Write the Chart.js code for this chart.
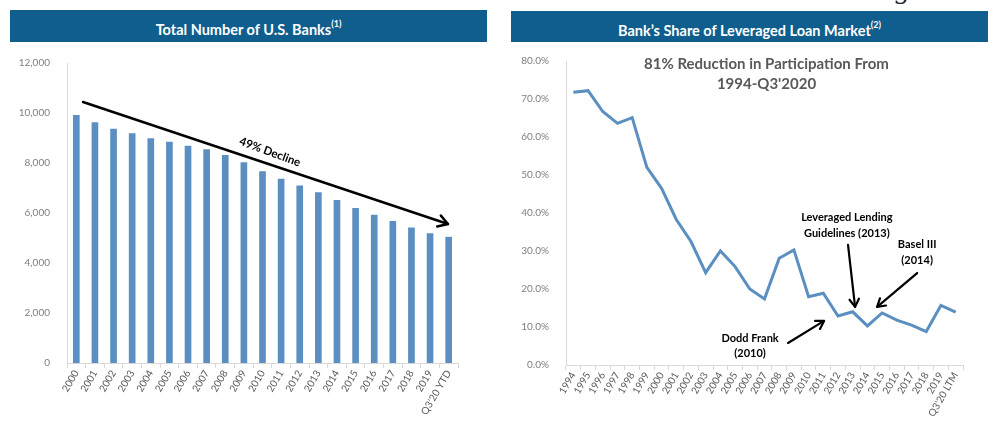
<!DOCTYPE html>
<html>
<head>
<meta charset="utf-8">
<script src="https://cdn.jsdelivr.net/npm/chart.js@4.4.1/dist/chart.umd.min.js"></script>
<style>
  body { margin: 0; width: 998px; height: 422px; background: #fff; position: relative; overflow: hidden; font-family: Lato, sans-serif; }
  .hdr { position: absolute; height: 32px; line-height: 32px; background: #0f5e8d; color: #fff; font-weight: bold; font-size: 14.5px; text-align: center; }
  .hdr sup { font-size: 9px; position: relative; top: -2px; }
  .box { position: absolute; top: 45px; }
  .frag { position: absolute; left: 893px; top: -25px; font: 26px "DejaVu Serif", serif; color: #222; }
</style>
</head>
<body>
<div class="frag">g</div>
<div class="hdr" style="left:10px; top:10px; width:477px;">Total Number of U.S. Banks<sup>(1)</sup></div>
<div class="hdr" style="left:511px; top:11px; width:477px; height:31px; line-height:31px;">Bank’s Share of Leveraged Loan Market<sup>(2)</sup></div>
<canvas id="banks" class="box" style="left:10px;" width="478" height="377"></canvas>
<canvas id="share" class="box" style="left:511px;" width="478" height="377"></canvas>
<script>
// Total number of U.S. banks
const bankYears = ['2000', '2001', '2002', '2003', '2004', '2005', '2006', '2007', '2008', '2009', '2010',
  '2011', '2012', '2013', '2014', '2015', '2016', '2017', '2018', '2019', "Q3'20 YTD"];
const bankCounts = [9904, 9613, 9354, 9181, 8976, 8833, 8680, 8534, 8305, 8012, 7658,
  7357, 7083, 6812, 6509, 6182, 5913, 5670, 5406, 5177, 5033];
const bankTicks = [0, 2000, 4000, 6000, 8000, 10000, 12000];

// Bank's share of leveraged loan market (%)
const shareYears = ['1994', '1995', '1996', '1997', '1998', '1999', '2000', '2001', '2002', '2003', '2004',
  '2005', '2006', '2007', '2008', '2009', '2010', '2011', '2012', '2013', '2014', '2015', '2016', '2017',
  '2018', '2019', "Q3'20 LTM"];
const bankShare = [71.8, 72.2, 66.7, 63.6, 65.1, 52.0, 46.5, 38.3, 32.5, 24.3, 30.0,
  25.9, 20.0, 17.4, 28.1, 30.3, 18.0, 18.9, 12.9, 14.0, 10.3, 13.7, 11.8, 10.5,
  8.8, 15.7, 13.9];
const shareTicks = [0, 10, 20, 30, 40, 50, 60, 70, 80];

const axisGrey = '#d9d9d9';
const labelGrey = '#595959';
const lineBlue = '#5b8fc1';

function arrow(ctx, x1, y1, x2, y2, head) {
  ctx.beginPath();
  ctx.moveTo(x1, y1);
  ctx.lineTo(x2, y2);
  ctx.stroke();
  const a = Math.atan2(y2 - y1, x2 - x1);
  ctx.beginPath();
  ctx.moveTo(x2 - head * Math.cos(a - 0.55), y2 - head * Math.sin(a - 0.55));
  ctx.lineTo(x2, y2);
  ctx.lineTo(x2 - head * Math.cos(a + 0.55), y2 - head * Math.sin(a + 0.55));
  ctx.stroke();
}

// "49% Decline" arrow, placed in scale units
const declinePlugin = {
  id: 'decline',
  afterDraw(chart) {
    const { ctx, scales: { x, y } } = chart;
    const x1 = x.getPixelForValue(0.36), y1 = y.getPixelForValue(10440);
    const x2 = x.getPixelForValue(19.96), y2 = y.getPixelForValue(5560);
    ctx.save();
    ctx.strokeStyle = '#000';
    ctx.lineWidth = 2.5;
    ctx.lineCap = 'round';
    ctx.lineJoin = 'round';
    arrow(ctx, x1, y1, x2, y2, 11);
    ctx.translate(x.getPixelForValue(10.4), y.getPixelForValue(8440));
    ctx.rotate(Math.atan2(y2 - y1, x2 - x1) + 0.03);
    ctx.fillStyle = '#000';
    ctx.font = 'bold 11.5px Lato';
    ctx.textAlign = 'center';
    ctx.textBaseline = 'middle';
    ctx.fillText('49% Decline', 0, 0);
    ctx.restore();
  }
};

const notesPlugin = {
  id: 'notes',
  afterDraw(chart) {
    const { ctx, chartArea, scales: { x, y } } = chart;
    const px = v => x.getPixelForValue(v);
    const py = v => y.getPixelForValue(v);
    ctx.save();
    ctx.textAlign = 'center';
    ctx.textBaseline = 'middle';
    ctx.fillStyle = labelGrey;
    ctx.font = 'bold 15px Lato';
    const cx = (chartArea.left + chartArea.right) / 2 + 2;
    ctx.fillText('81% Reduction in Participation From', cx, chartArea.top + 3);
    ctx.fillText("1994-Q3'2020", cx, chartArea.top + 23);

    ctx.fillStyle = '#000';
    ctx.font = 'bold 11px Lato';
    ctx.fillText('Leveraged Lending', px(18.6), py(38.7));
    ctx.fillText('Guidelines (2013)', px(18.6), py(34.7));
    ctx.fillText('Basel III', px(23.38), py(31.6));
    ctx.fillText('(2014)', px(23.38), py(27.6));
    ctx.fillText('Dodd Frank', px(12.02), py(7.1));
    ctx.fillText('(2010)', px(12.02), py(3.0));

    ctx.strokeStyle = '#000';
    ctx.lineWidth = 2.2;
    ctx.lineCap = 'round';
    ctx.lineJoin = 'round';
    arrow(ctx, px(18.68), py(31.6), px(19.16), py(15.3), 9);
    arrow(ctx, px(23.38), py(24.2), px(20.66), py(15.3), 9);
    arrow(ctx, px(14.6), py(5.8), px(17.05), py(11.6), 9);
    ctx.restore();
  }
};

Chart.defaults.font.family = 'Lato';

new Chart(document.getElementById('banks'), {
  type: 'bar',
  data: {
    labels: bankYears,
    datasets: [{ data: bankCounts, backgroundColor: lineBlue, barThickness: 6 }]
  },
  options: {
    responsive: false,
    animation: false,
    layout: { padding: { top: 18, right: 30, left: 0, bottom: 0 } },
    plugins: { legend: { display: false }, tooltip: { enabled: false } },
    scales: {
      x: {
        offset: true,
        grid: { display: true, drawOnChartArea: false, offset: true, tickLength: 5, color: axisGrey },
        border: { color: axisGrey },
        ticks: { autoSkip: false, maxRotation: 60, minRotation: 60, padding: 0, color: labelGrey, font: { size: 10 } },
        afterFit(s) { s.height = 59; }
      },
      y: {
        min: bankTicks[0],
        max: bankTicks[bankTicks.length - 1],
        afterBuildTicks(s) { s.ticks = bankTicks.map(v => ({ value: v })); },
        grid: { display: false },
        border: { color: axisGrey },
        ticks: { padding: 9, color: '#7f7f7f', font: { size: 10 }, callback: v => v.toLocaleString('en-US') },
        afterFit(s) { s.width = 57; }
      }
    }
  },
  plugins: [declinePlugin]
});

new Chart(document.getElementById('share'), {
  type: 'line',
  data: {
    labels: shareYears,
    datasets: [{ data: bankShare, borderColor: lineBlue, borderWidth: 3, pointRadius: 0, tension: 0, fill: false }]
  },
  options: {
    responsive: false,
    animation: false,
    layout: { padding: { top: 16, right: 26, left: 0, bottom: 0 } },
    plugins: { legend: { display: false }, tooltip: { enabled: false } },
    scales: {
      x: {
        offset: true,
        grid: { display: true, drawOnChartArea: false, offset: true, tickLength: 5, color: axisGrey },
        border: { color: axisGrey },
        ticks: { autoSkip: false, maxRotation: 60, minRotation: 60, padding: 0, color: labelGrey, font: { size: 10 } },
        afterFit(s) { s.height = 57; }
      },
      y: {
        min: shareTicks[0],
        max: shareTicks[shareTicks.length - 1],
        afterBuildTicks(s) { s.ticks = shareTicks.map(v => ({ value: v })); },
        grid: { display: false },
        border: { color: axisGrey },
        ticks: { padding: 9, color: '#7f7f7f', font: { size: 10 }, callback: v => v.toFixed(1) + '%' },
        afterFit(s) { s.width = 55; }
      }
    }
  },
  plugins: [notesPlugin]
});
</script>
</body>
</html>
